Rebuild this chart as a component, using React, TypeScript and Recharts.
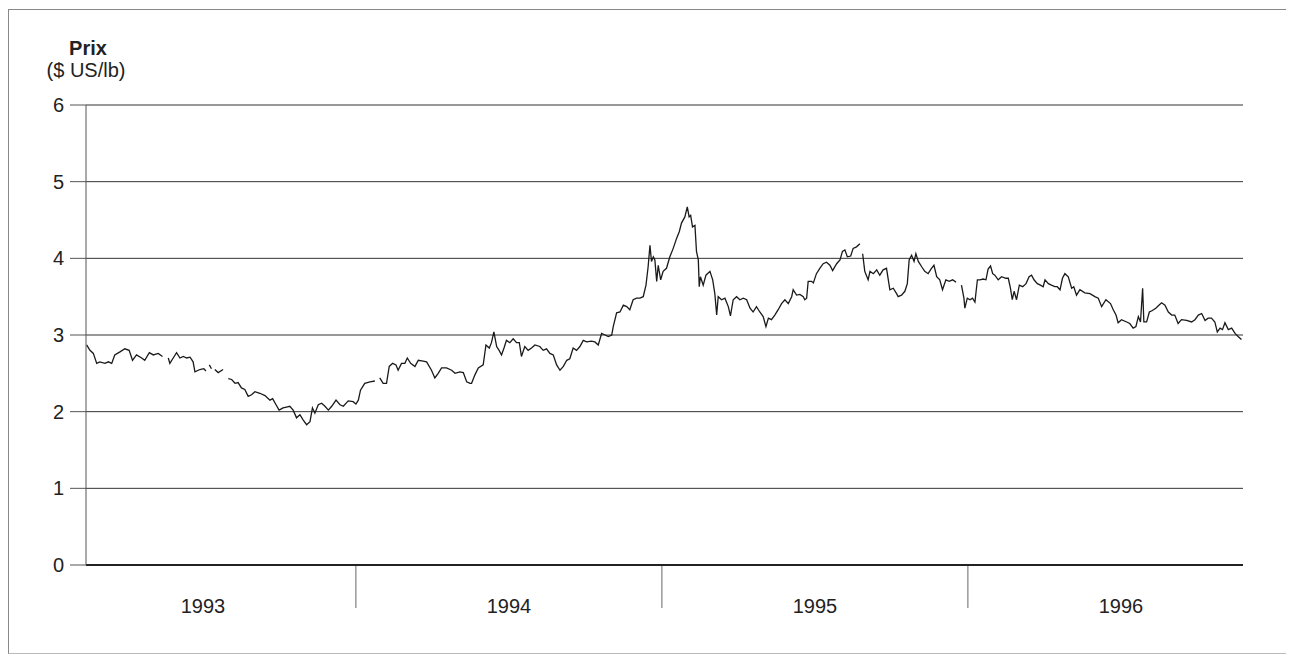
import { CartesianGrid, Line, LineChart, XAxis, YAxis } from 'recharts';

const FONT = 'Arial, "Liberation Sans", sans-serif';

// time in decimal years, price in $ US/lb (null = gap in the series)
const dates = [
  1993.120, 1993.131, 1993.142, 1993.153, 1993.163, 1993.180, 1993.191, 1993.202, 1993.212, 1993.229,
  1993.245, 1993.259, 1993.270, 1993.283, 1993.300, 1993.310, 1993.325, 1993.338, 1993.354, 1993.368,
  1993.372, 1993.387, 1993.392, 1993.403, 1993.414, 1993.425, 1993.436, 1993.447, 1993.458, 1993.468,
  1993.474, 1993.490, 1993.503, 1993.510, 1993.513, 1993.521, 1993.528, 1993.532, 1993.539, 1993.550,
  1993.566, 1993.572, 1993.583, 1993.594, 1993.605, 1993.615, 1993.626, 1993.637, 1993.648, 1993.659,
  1993.670, 1993.686, 1993.703, 1993.719, 1993.728, 1993.739, 1993.749, 1993.762, 1993.773, 1993.784,
  1993.795, 1993.806, 1993.817, 1993.828, 1993.839, 1993.850, 1993.858, 1993.866, 1993.877, 1993.888,
  1993.899, 1993.910, 1993.921, 1993.935, 1993.948, 1993.959, 1993.975, 1993.991, 1994.000, 1994.008,
  1994.015, 1994.029, 1994.046, 1994.062, 1994.066, 1994.078, 1994.089, 1994.100, 1994.109, 1994.120,
  1994.131, 1994.138, 1994.149, 1994.160, 1994.168, 1994.179, 1994.193, 1994.204, 1994.220, 1994.231,
  1994.247, 1994.258, 1994.269, 1994.280, 1994.296, 1994.313, 1994.324, 1994.340, 1994.351, 1994.362,
  1994.373, 1994.378, 1994.389, 1994.400, 1994.416, 1994.425, 1994.436, 1994.443, 1994.451, 1994.460,
  1994.468, 1994.476, 1994.484, 1994.492, 1994.503, 1994.514, 1994.525, 1994.534, 1994.541, 1994.552,
  1994.563, 1994.574, 1994.585, 1994.601, 1994.612, 1994.623, 1994.634, 1994.645, 1994.656, 1994.667,
  1994.678, 1994.689, 1994.699, 1994.710, 1994.721, 1994.732, 1994.743, 1994.754, 1994.770, 1994.781,
  1994.792, 1994.803, 1994.814, 1994.825, 1994.836, 1994.841, 1994.852, 1994.863, 1994.874, 1994.885,
  1994.895, 1994.906, 1994.917, 1994.928, 1994.939, 1994.948, 1994.955, 1994.961, 1994.966, 1994.972,
  1994.977, 1994.983, 1994.988, 1994.996, 1995.004, 1995.015, 1995.026, 1995.037, 1995.048, 1995.057,
  1995.064, 1995.075, 1995.083, 1995.089, 1995.094, 1995.100, 1995.108, 1995.113, 1995.119, 1995.122,
  1995.126, 1995.135, 1995.144, 1995.157, 1995.166, 1995.173, 1995.179, 1995.184, 1995.195, 1995.206,
  1995.217, 1995.224, 1995.233, 1995.244, 1995.255, 1995.266, 1995.277, 1995.288, 1995.298, 1995.309,
  1995.320, 1995.331, 1995.340, 1995.348, 1995.358, 1995.369, 1995.380, 1995.391, 1995.402, 1995.413,
  1995.424, 1995.429, 1995.440, 1995.451, 1995.462, 1995.467, 1995.473, 1995.478, 1995.489, 1995.495,
  1995.505, 1995.516, 1995.527, 1995.538, 1995.549, 1995.558, 1995.571, 1995.582, 1995.590, 1995.598,
  1995.606, 1995.617, 1995.625, 1995.636, 1995.647, 1995.650, 1995.656, 1995.663, 1995.674, 1995.680,
  1995.691, 1995.702, 1995.712, 1995.723, 1995.734, 1995.745, 1995.756, 1995.767, 1995.772, 1995.783,
  1995.794, 1995.802, 1995.808, 1995.816, 1995.824, 1995.830, 1995.838, 1995.849, 1995.859, 1995.870,
  1995.881, 1995.889, 1995.898, 1995.908, 1995.917, 1995.928, 1995.939, 1995.950, 1995.961, 1995.966,
  1995.979, 1995.987, 1995.990, 1995.998, 1996.007, 1996.015, 1996.023, 1996.031, 1996.039, 1996.050,
  1996.059, 1996.066, 1996.074, 1996.081, 1996.088, 1996.099, 1996.110, 1996.124, 1996.132, 1996.139,
  1996.145, 1996.151, 1996.159, 1996.168, 1996.179, 1996.190, 1996.200, 1996.208, 1996.216, 1996.227,
  1996.237, 1996.246, 1996.252, 1996.263, 1996.273, 1996.284, 1996.292, 1996.301, 1996.309, 1996.317,
  1996.328, 1996.339, 1996.346, 1996.355, 1996.366, 1996.382, 1996.399, 1996.415, 1996.426, 1996.437,
  1996.451, 1996.466, 1996.475, 1996.484, 1996.491, 1996.502, 1996.519, 1996.529, 1996.540, 1996.549,
  1996.557, 1996.564, 1996.571, 1996.575, 1996.584, 1996.593, 1996.603, 1996.614, 1996.625, 1996.633,
  1996.644, 1996.655, 1996.666, 1996.676, 1996.687, 1996.698, 1996.715, 1996.731, 1996.742, 1996.753,
  1996.764, 1996.775, 1996.785, 1996.796, 1996.807, 1996.815, 1996.824, 1996.832, 1996.840, 1996.851,
  1996.862, 1996.873, 1996.883, 1996.894,
];

const prices = [
  2.87, 2.80, 2.76, 2.63, 2.65, 2.63, 2.65, 2.63, 2.74, 2.78,
  2.82, 2.80, 2.67, 2.74, 2.70, 2.67, 2.77, 2.74, 2.76, 2.72,
  null, 2.70, 2.63, 2.70, 2.77, 2.70, 2.72, 2.70, 2.71, 2.65,
  2.52, 2.55, 2.56, 2.53, null, 2.61, 2.56, null, 2.55, 2.51,
  2.55, null, 2.43, 2.42, 2.37, 2.38, 2.31, 2.29, 2.20, 2.22,
  2.26, 2.24, 2.21, 2.15, 2.17, 2.09, 2.02, 2.05, 2.06, 2.07,
  2.02, 1.92, 1.96, 1.89, 1.83, 1.87, 2.05, 1.98, 2.09, 2.11,
  2.07, 2.02, 2.07, 2.15, 2.09, 2.07, 2.14, 2.13, 2.10, 2.15,
  2.28, 2.37, 2.39, 2.40, null, 2.44, 2.37, 2.37, 2.59, 2.63,
  2.61, 2.54, 2.63, 2.63, 2.70, 2.63, 2.59, 2.67, 2.66, 2.65,
  2.54, 2.44, 2.50, 2.57, 2.57, 2.54, 2.50, 2.52, 2.51, 2.39,
  2.37, 2.37, 2.48, 2.57, 2.61, 2.87, 2.83, 2.90, 3.04, 2.85,
  2.80, 2.74, 2.83, 2.93, 2.90, 2.95, 2.90, 2.90, 2.72, 2.85,
  2.80, 2.83, 2.87, 2.85, 2.80, 2.82, 2.76, 2.74, 2.61, 2.54,
  2.59, 2.67, 2.69, 2.83, 2.80, 2.85, 2.93, 2.91, 2.92, 2.91,
  2.87, 3.02, 3.00, 2.98, 3.00, 3.11, 3.29, 3.30, 3.39, 3.37,
  3.33, 3.46, 3.48, 3.48, 3.50, 3.65, 3.89, 4.17, 3.96, 4.02,
  3.98, 3.70, 3.91, 3.72, 3.83, 3.87, 4.02, 4.13, 4.26, 4.35,
  4.46, 4.54, 4.67, 4.54, 4.56, 4.41, 4.43, 4.09, 3.98, 3.63,
  3.76, 3.65, 3.78, 3.83, 3.72, 3.54, 3.26, 3.50, 3.46, 3.48,
  3.37, 3.25, 3.46, 3.50, 3.46, 3.48, 3.46, 3.35, 3.30, 3.37,
  3.30, 3.24, 3.11, 3.22, 3.20, 3.26, 3.33, 3.41, 3.46, 3.41,
  3.50, 3.59, 3.52, 3.53, 3.50, 3.46, 3.48, 3.70, 3.70, 3.68,
  3.80, 3.87, 3.93, 3.95, 3.91, 3.84, 3.93, 3.98, 4.09, 4.11,
  4.02, 4.03, 4.13, 4.15, 4.19, null, 4.06, 3.83, 3.72, 3.83,
  3.80, 3.85, 3.78, 3.85, 3.87, 3.59, 3.61, 3.54, 3.50, 3.52,
  3.57, 3.67, 3.98, 4.04, 3.96, 4.06, 3.96, 3.89, 3.83, 3.80,
  3.87, 3.91, 3.76, 3.72, 3.59, 3.72, 3.70, 3.72, 3.69, null,
  3.65, 3.48, 3.35, 3.48, 3.46, 3.48, 3.43, 3.72, 3.72, 3.73,
  3.72, 3.86, 3.90, 3.80, 3.78, 3.72, 3.76, 3.74, 3.74, 3.61,
  3.46, 3.57, 3.46, 3.65, 3.63, 3.67, 3.76, 3.78, 3.72, 3.67,
  3.65, 3.63, 3.72, 3.67, 3.65, 3.63, 3.63, 3.59, 3.74, 3.80,
  3.76, 3.61, 3.63, 3.52, 3.59, 3.55, 3.54, 3.50, 3.48, 3.37,
  3.46, 3.41, 3.33, 3.26, 3.16, 3.20, 3.17, 3.15, 3.09, 3.11,
  3.24, 3.17, 3.61, 3.17, 3.17, 3.30, 3.32, 3.35, 3.39, 3.42,
  3.39, 3.30, 3.26, 3.26, 3.15, 3.20, 3.19, 3.17, 3.20, 3.26,
  3.28, 3.19, 3.22, 3.22, 3.17, 3.04, 3.09, 3.07, 3.16, 3.07,
  3.09, 3.02, 2.98, 2.94,
];

const priceTicks = [0, 1, 2, 3, 4, 5, 6];
// integer years = separators, mid-years = labels
const yearTicks = [1993.5, 1994, 1994.5, 1995, 1995.5, 1996, 1996.5];

const data = dates.map((t, i) => ({ t, p: prices[i] }));

function YearTick(props: any) {
  const { x, y, payload } = props;
  const v = payload.value as number;
  if (Number.isInteger(v)) {
    return <line x1={x} x2={x} y1={y + 1} y2={y + 43} stroke="#666" strokeWidth={1} />;
  }
  return (
    <text x={x} y={y + 48} textAnchor="middle" fill="#222" fontSize={20} fontFamily={FONT}>
      {Math.floor(v)}
    </text>
  );
}

export default function App() {
  return (
    <div
      style={{
        position: 'relative',
        marginTop: 1,
        width: 1310,
        height: 645,
        boxSizing: 'border-box',
        borderTop: '1px solid #888',
        borderLeft: '1px solid #888',
        borderBottom: '1px solid #bbb',
        background: '#fff',
      }}
    >
      <style>{'html,body{overflow:hidden}'}</style>
      <svg width={200} height={90} style={{ position: 'absolute', left: 0, top: 0 }}>
        <text x={79} y={45} textAnchor="middle" fontSize={20} fontWeight="bold" fill="#222" fontFamily={FONT}>
          Prix
        </text>
        <text x={77} y={67} textAnchor="middle" fontSize={20} fill="#222" fontFamily={FONT}>
          ($ US/lb)
        </text>
      </svg>
      <LineChart width={1285} height={643} data={data} margin={{ top: 95, right: 51, bottom: 28, left: 0 }}>
        <CartesianGrid vertical={false} stroke="#333" strokeWidth={1} />
        <XAxis
          dataKey="t"
          type="number"
          domain={[1993.118, 1996.899]}
          ticks={yearTicks}
          tick={<YearTick />}
          tickLine={false}
          tickSize={0}
          tickMargin={0}
          height={60}
          interval={0}
          axisLine={{ stroke: '#222', strokeWidth: 2 }}
          allowDataOverflow
        />
        <YAxis
          type="number"
          domain={[0, 6]}
          ticks={priceTicks}
          width={77}
          tickSize={16}
          tickMargin={6}
          interval={0}
          tick={{ fill: '#222', fontSize: 20, fontFamily: FONT }}
          tickLine={{ stroke: '#555' }}
          axisLine={{ stroke: '#555' }}
        />
        <Line
          type="linear"
          dataKey="p"
          stroke="#1a1a1a"
          strokeWidth={1.3}
          dot={false}
          connectNulls={false}
          isAnimationActive={false}
        />
      </LineChart>
    </div>
  );
}
